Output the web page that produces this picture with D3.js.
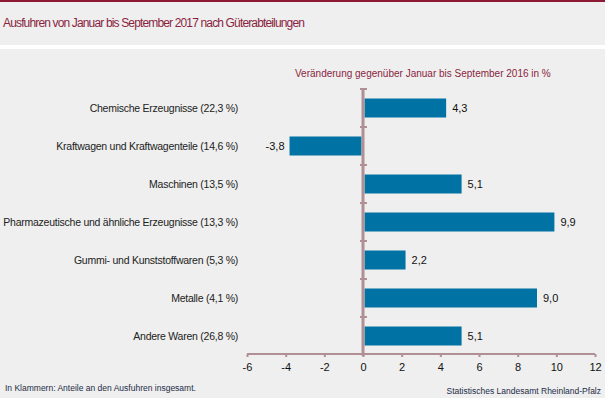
<!DOCTYPE html>
<html>
<head>
<meta charset="utf-8">
<script src="https://cdn.jsdelivr.net/npm/d3@7"></script>
<style>
  body { margin: 0; background: #eeefee; }
  svg { display: block; font-family: "Liberation Sans", Arial, sans-serif; }
</style>
</head>
<body>
<div id="chart"></div>
<script>
// Güterabteilungen mit Anteil an den Ausfuhren
const categories = [
    "Chemische Erzeugnisse (22,3 %)",
    "Kraftwagen und Kraftwagenteile (14,6 %)",
    "Maschinen (13,5 %)",
    "Pharmazeutische und ähnliche Erzeugnisse (13,3 %)",
    "Gummi- und Kunststoffwaren (5,3 %)",
    "Metalle (4,1 %)",
    "Andere Waren (26,8 %)"
];
// Veränderung gegenüber Vorjahreszeitraum in %
const changes = [4.3, -3.8, 5.1, 9.9, 2.2, 9.0, 5.1];
const xTicks = [-6, -4, -2, 0, 2, 4, 6, 8, 10, 12];

const width = 605, height = 398;
const axisColor = "#b09096";
const barColor = "#0073a4";
const red = "#8b1f3f";

const svg = d3.select("#chart").append("svg")
    .attr("width", width)
    .attr("height", height);

// Hintergrund + Kopfbereich
svg.append("rect").attr("width", width).attr("height", height).attr("fill", "#eeefee");
svg.append("rect").attr("width", width).attr("height", 2).attr("fill", "#8b1a32");
svg.append("rect").attr("y", 45).attr("width", width).attr("height", 4).attr("fill", "#ffffff");

svg.append("text")
    .attr("x", 3)
    .attr("y", 27)
    .attr("fill", red)
    .style("font-size", "12px")
    .style("letter-spacing", "-0.85px")
    .text("Ausfuhren von Januar bis September 2017 nach Güterabteilungen");

const x = d3.scaleLinear()
    .domain([-6, 12])
    .range([247, 595]);

const y = d3.scaleBand()
    .domain(categories)
    .range([89, 355])
    .paddingInner(0.5)
    .paddingOuter(0.25);

const data = categories.map((c, i) => ({ cat: c, val: changes[i] }));

svg.append("text")
    .attr("x", 295)
    .attr("y", 77)
    .attr("fill", red)
    .style("font-size", "10px")
    .text("Veränderung gegenüber Januar bis September 2016 in %");

// Balken
svg.selectAll(".bar")
    .data(data)
    .enter()
    .append("rect")
    .attr("class", "bar")
    .attr("x", d => d.val >= 0 ? x(0) + 1.5 : x(d.val))
    .attr("y", d => y(d.cat))
    .attr("width", d => d.val >= 0 ? x(d.val) - x(0) - 1.5 : x(0) - x(d.val) - 1.5)
    .attr("height", y.bandwidth())
    .attr("fill", barColor);

// Werte
svg.selectAll(".label")
    .data(data)
    .enter()
    .append("text")
    .attr("class", "label")
    .attr("x", d => d.val >= 0 ? x(d.val) + 6 : x(d.val) - 5)
    .attr("y", d => y(d.cat) + y.bandwidth() / 2)
    .attr("dy", "0.35em")
    .attr("text-anchor", d => d.val >= 0 ? "start" : "end")
    .attr("fill", "#111")
    .style("font-size", "11px")
    .text(d => d.val.toFixed(1).replace(".", ","));

// Kategorien
svg.selectAll(".cat")
    .data(data)
    .enter()
    .append("text")
    .attr("class", "cat")
    .attr("x", 238)
    .attr("y", d => y(d.cat) + y.bandwidth() / 2)
    .attr("dy", "0.35em")
    .attr("text-anchor", "end")
    .attr("fill", "#222")
    .style("font-size", "10.5px")
    .style("letter-spacing", "-0.25px")
    .text(d => d.cat);

// x-Achse
const xAxis = svg.append("g")
    .attr("transform", "translate(0,354)")
    .call(d3.axisBottom(x)
        .tickValues(xTicks)
        .tickSize(3)
        .tickPadding(6)
        .tickFormat(d => String(d)));
xAxis.select(".domain").attr("stroke", axisColor).attr("stroke-width", 2)
    .attr("d", `M${x(-6)},0H${x(12)}`);
xAxis.selectAll(".tick line").attr("stroke", axisColor).attr("stroke-width", 2);
xAxis.selectAll(".tick text")
    .attr("fill", "#111")
    .style("font-size", "11px")
    .style("font-family", "'Liberation Sans', Arial, sans-serif");

// y-Achse bei 0
const step = y.step();
const bounds = d3.range(categories.length).map(i => y(categories[i]) - step * 0.25);
svg.append("line")
    .attr("x1", x(0)).attr("x2", x(0))
    .attr("y1", 89).attr("y2", 356)
    .attr("stroke", axisColor)
    .attr("stroke-width", 3);
svg.selectAll(".ytick")
    .data(bounds)
    .enter()
    .append("line")
    .attr("class", "ytick")
    .attr("x1", x(0) - 3).attr("x2", x(0) + 4)
    .attr("y1", d => d).attr("y2", d => d)
    .attr("stroke", axisColor)
    .attr("stroke-width", 2);

// Fußzeilen
svg.append("text")
    .attr("x", 5)
    .attr("y", 391)
    .attr("fill", "#1d2b48")
    .style("font-size", "8.5px")
    .text("In Klammern: Anteile an den Ausfuhren insgesamt.");

svg.append("text")
    .attr("x", 601)
    .attr("y", 394)
    .attr("text-anchor", "end")
    .attr("fill", "#1d2b48")
    .style("font-size", "8.5px")
    .text("Statistisches Landesamt Rheinland-Pfalz");
</script>
</body>
</html>
